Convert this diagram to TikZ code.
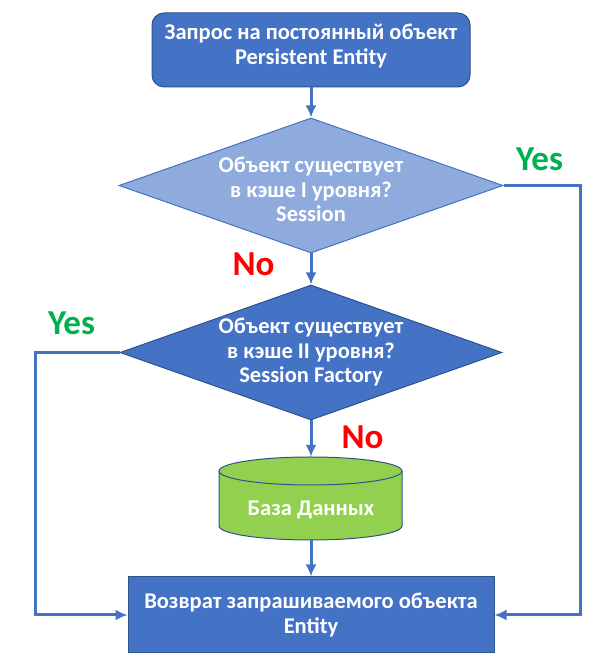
\documentclass[tikz,border=0pt]{standalone}
\usepackage{fontspec}
\setmainfont{Carlito}
\usetikzlibrary{shapes.geometric,arrows.meta}

\definecolor{boxblue}{HTML}{4472C4}
\definecolor{lightblue}{HTML}{8FAADC}
\definecolor{edgeblue}{HTML}{2F528F}
\definecolor{dbgreen}{HTML}{92D050}
\definecolor{yesgreen}{HTML}{00B050}
\definecolor{nored}{HTML}{FF0000}

\tikzset{
  stepbox/.style={draw=edgeblue, line width=1pt, fill=boxblue, inner sep=0pt},
  ask/.style={diamond, draw=edgeblue, line width=1pt, fill=boxblue, inner sep=0pt,
    aspect=2.84, minimum width=384pt, minimum height=135pt},
  boxtext/.style={text=white, align=center, inner sep=0pt,
    font=\bfseries\fontsize{22.5}{24.5}\selectfont},
  flowline/.style={draw=boxblue, line width=3pt, -{Latex[length=12pt,width=11pt]}},
  yeslabel/.style={text=yesgreen, font=\bfseries\fontsize{35}{35}\selectfont},
  nolabel/.style={text=nored, font=\bfseries\fontsize{35}{35}\selectfont}
}

\begin{document}
\begin{tikzpicture}[x=1pt,y=1pt]
    \useasboundingbox (0,0) rectangle (614,669);

% Blocks
    \node[stepbox, rounded corners=12pt, minimum width=318pt, minimum height=74pt,
          label={[boxtext,yshift=4pt]center:{Запрос на постоянный объект\\Persistent Entity}}]
          (start) at (311,619) {};

    \node[ask, fill=lightblue, draw=boxblue,
          label={[boxtext,yshift=-4pt]center:{Объект существует\\в кэше I уровня?\\Session}}]
          (cache1) at (311,483.5) {};

    \node[ask, minimum width=382pt,
          label={[boxtext]center:{Объект существует\\в кэше II уровня?\\Session Factory}}]
          (cache2) at (311,316.5) {};

    \node[stepbox, minimum width=366pt, minimum height=76pt,
          label={[boxtext]center:{Возврат запрашиваемого объекта\\Entity}}]
          (result) at (311,54) {};

% Cylinder (database)
        \def\rx{91.5}
        \def\ry{14}
    \draw[draw=edgeblue, line width=1pt, fill=dbgreen]
        (219,198) -- (219,143)
        arc[start angle=180, end angle=360, x radius=\rx, y radius=\ry]
        -- (402,198)
        arc[start angle=0, end angle=180, x radius=\rx, y radius=\ry] -- cycle;
    \draw[draw=edgeblue, line width=1pt]
        (219,198) arc[start angle=180, end angle=360, x radius=\rx, y radius=\ry];
    \node[inner sep=0pt, minimum width=183pt, minimum height=83pt,
          label={[boxtext,yshift=-11pt]center:База Данных}]
          (db) at (311,170.5) {};

% Connectors
    \coordinate (rside) at (580,0);
    \coordinate (lside) at (35,0);

    \draw[flowline] (start) -- (cache1);
    \draw[flowline] (cache1) -- (cache2);
    \draw[flowline] (cache2) -- (db);
    \draw[flowline] (db) -- (result);
    \draw[flowline] (cache1.east) -- (cache1.east -| rside) |- (result.east);
    \draw[flowline] (cache2.west) -- (cache2.west -| lside) |- (result.west);

% Answers
    \node[yeslabel] (yes1) at (539.5,510) {Yes};
    \node[yeslabel] (yes2) at (71.5,346) {Yes};
    \node[nolabel] (no1) at (253.5,405) {No};
    \node[nolabel] (no2) at (362.5,231.5) {No};

\end{tikzpicture}
\end{document}
